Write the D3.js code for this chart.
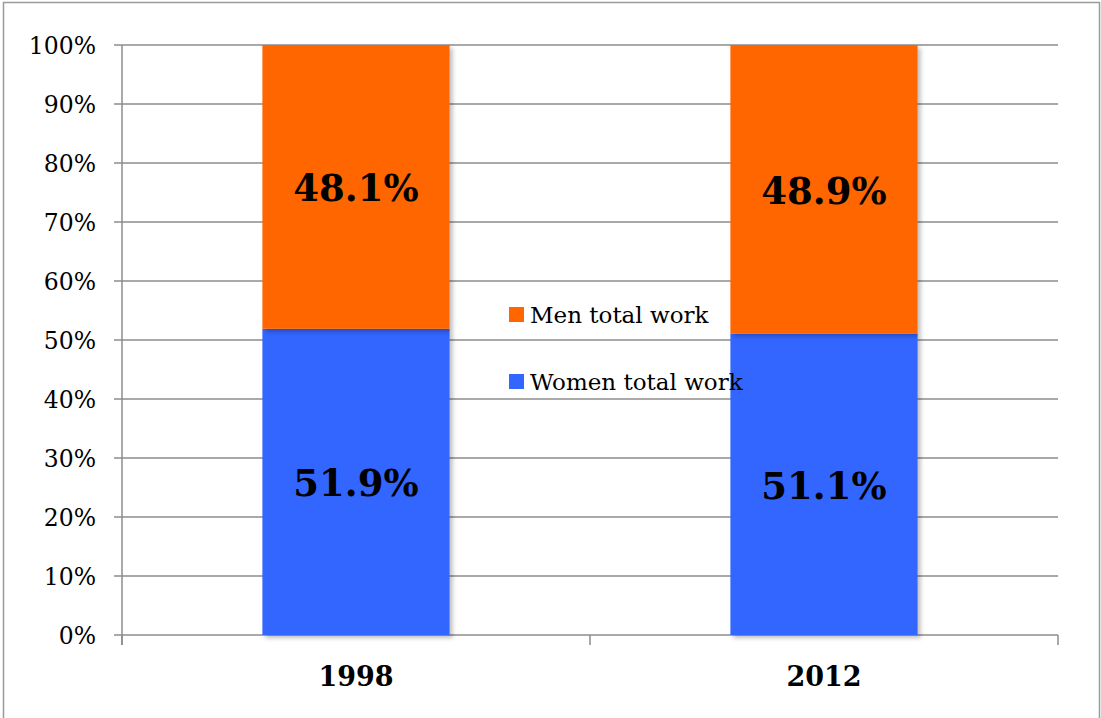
<!DOCTYPE html>
<html>
<head>
<meta charset="utf-8">
<script src="https://cdn.jsdelivr.net/npm/d3@7"></script>
<style>
  html, body { margin: 0; padding: 0; background: #fff; }
  svg { display: block; }
</style>
</head>
<body>
<svg id="chart" width="1101" height="718"></svg>
<script>
const categories = ["1998", "2012"];
const seriesNames = ["Women total work", "Men total work"];
const womenValues = [51.9, 51.1];
const menValues = [48.1, 48.9];
const yTicks = [0, 10, 20, 30, 40, 50, 60, 70, 80, 90, 100];
const colors = { "Women total work": "#3366FF", "Men total work": "#FF6600" };

const svg = d3.select("#chart");
const W = 1101, H = 718;
const margin = { left: 122, right: 43, top: 45, bottom: 83 };
const x0 = margin.left, x1 = W - margin.right;
const y0 = H - margin.bottom, y1 = margin.top;
const serif = "'DejaVu Serif', 'Liberation Serif', serif";

// outer border
svg.append("rect").attr("x", 3.5).attr("y", 2.5).attr("width", 1096).attr("height", 730)
  .attr("fill", "#fff").attr("stroke", "#9a9a9a").attr("stroke-width", 1.5);

const defs = svg.append("defs");
const f = defs.append("filter").attr("id", "shadow").attr("x", "-10%").attr("y", "-10%").attr("width", "130%").attr("height", "130%");
f.append("feDropShadow").attr("dx", 3).attr("dy", 3).attr("stdDeviation", 2).attr("flood-color", "#000").attr("flood-opacity", 0.25);

const x = d3.scaleBand().domain(categories).range([x0, x1]).paddingInner(0).paddingOuter(0);
const y = d3.scaleLinear().domain([0, 100]).range([y0, y1]);
const barW = x.bandwidth() * 0.4;

// gridlines
svg.append("g").selectAll("line").data(yTicks).join("line")
  .attr("x1", x0 - 8).attr("x2", x1)
  .attr("y1", d => y(d)).attr("y2", d => y(d))
  .attr("stroke", "#8c8c8c").attr("stroke-width", 1.5);

// y axis
const yAxis = d3.axisLeft(y).tickValues(yTicks).tickFormat(d => d + "%").tickSize(0).tickPadding(26);
const gy = svg.append("g").attr("transform", `translate(${x0},0)`).call(yAxis);
gy.select(".domain").remove();
gy.selectAll("text").attr("font-family", serif).attr("font-size", 23.5).attr("fill", "#000").attr("dy", "0.36em");
svg.append("line").attr("x1", x0).attr("x2", x0).attr("y1", y1).attr("y2", y0 + 10)
  .attr("stroke", "#8c8c8c").attr("stroke-width", 1.5);

// x axis ticks at band edges
const edges = categories.map(c => x(c)).concat([x1]);
svg.append("g").selectAll("line").data(edges).join("line")
  .attr("x1", d => d).attr("x2", d => d).attr("y1", y0).attr("y2", y0 + 10)
  .attr("stroke", "#8c8c8c").attr("stroke-width", 1.5);

// stacked data
const data = categories.map((c, i) => ({ cat: c, "Women total work": womenValues[i], "Men total work": menValues[i] }));
const stack = d3.stack().keys(seriesNames)(data);

const barsG = svg.append("g");
stack.forEach(layer => {
  barsG.append("g").attr("filter", "url(#shadow)").selectAll("rect").data(layer).join("rect")
    .attr("x", d => x(d.data.cat) + (x.bandwidth() - barW) / 2)
    .attr("width", barW)
    .attr("y", d => y(d[1]))
    .attr("height", d => y(d[0]) - y(d[1]))
    .attr("fill", colors[layer.key]);
});
// value labels
stack.forEach(layer => {
  barsG.append("g").selectAll("text").data(layer).join("text")
    .attr("x", d => x(d.data.cat) + x.bandwidth() / 2)
    .attr("y", d => (y(d[0]) + y(d[1])) / 2 + 5)
    .attr("text-anchor", "middle").attr("dominant-baseline", "middle")
    .attr("font-family", serif).attr("font-weight", "bold").attr("font-size", 37)
    .attr("fill", "#000")
    .text(d => (d[1] - d[0]).toFixed(1) + "%");
});

// category labels
svg.append("g").selectAll("text").data(categories).join("text")
  .attr("x", d => x(d) + x.bandwidth() / 2).attr("y", 686)
  .attr("text-anchor", "middle").attr("font-family", serif).attr("font-weight", "bold")
  .attr("font-size", 27).attr("fill", "#000").text(d => d);

// legend
const legendItems = ["Men total work", "Women total work"];
const lg = svg.append("g").attr("transform", "translate(509,307)");
legendItems.forEach((name, i) => {
  const g = lg.append("g").attr("transform", `translate(0,${i * 67})`);
  g.append("rect").attr("width", 15).attr("height", 15).attr("fill", colors[name]);
  g.append("text").attr("x", 21).attr("y", 16).attr("font-family", serif)
    .attr("font-size", 23).attr("fill", "#000").text(name);
});
</script>
</body>
</html>
